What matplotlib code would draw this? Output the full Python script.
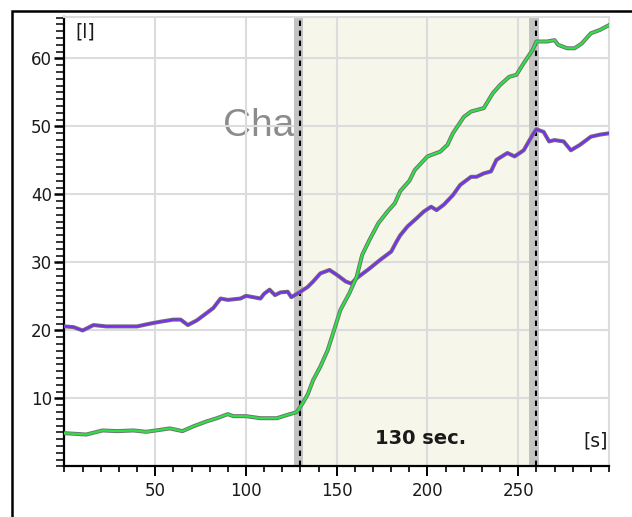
import matplotlib
matplotlib.use("Agg")
import matplotlib.pyplot as plt
import matplotlib.patheffects as pe
from matplotlib.ticker import MultipleLocator

# values (x in seconds, y in litres)
purple_x = [0, 5, 10, 16, 23, 31, 40, 47, 53, 60, 64, 68, 73, 78, 82, 86, 90, 97, 100,
            108, 110, 113, 116, 119, 123, 125, 130, 134, 137, 141, 146, 150, 155, 158,
            161, 168, 174, 180, 183, 185, 189, 194, 198, 202, 205, 209, 214, 218, 224,
            227, 231, 235, 238, 244, 248, 253, 258, 260, 264, 267, 270, 275, 279, 284,
            290, 295, 300]
purple_y = [20.6, 20.5, 20.0, 20.8, 20.6, 20.6, 20.6, 21.0, 21.3, 21.6, 21.6, 20.8, 21.5,
            22.5, 23.3, 24.7, 24.5, 24.7, 25.1, 24.7, 25.4, 26.0, 25.2, 25.6, 25.7, 24.9,
            25.7, 26.4, 27.2, 28.4, 28.9, 28.2, 27.2, 26.9, 27.7, 29.1, 30.4, 31.6, 33.1,
            34.0, 35.3, 36.5, 37.5, 38.2, 37.7, 38.5, 39.9, 41.4, 42.6, 42.6, 43.1, 43.4,
            45.1, 46.1, 45.6, 46.5, 48.8, 49.6, 49.2, 47.8, 48.0, 47.8, 46.5, 47.3, 48.5,
            48.8, 49.0]

green_x = [0, 12, 21, 29, 38, 45, 53, 58, 65, 71, 78, 84, 90, 93, 100, 108, 117, 123, 128,
           131, 134, 137, 141, 145, 148, 152, 157, 161, 164, 168, 173, 178, 182, 185, 190,
           193, 200, 207, 211, 214, 220, 224, 231, 236, 240, 245, 249, 253, 258, 260, 266,
           270, 272, 277, 281, 285, 290, 295, 300]
green_y = [4.9, 4.7, 5.3, 5.2, 5.3, 5.1, 5.4, 5.6, 5.2, 5.9, 6.6, 7.1, 7.7, 7.4, 7.4, 7.1,
           7.1, 7.6, 8.0, 9.2, 10.6, 12.7, 14.7, 17.1, 19.6, 23.0, 25.5, 27.9, 31.1, 33.3,
           35.8, 37.5, 38.7, 40.5, 42.0, 43.6, 45.6, 46.3, 47.3, 49.0, 51.4, 52.2, 52.7,
           54.9, 56.1, 57.3, 57.6, 59.3, 61.3, 62.5, 62.5, 62.7, 62.0, 61.5, 61.5, 62.2,
           63.7, 64.2, 64.9]

marker_start = 130
marker_end = 260
span_label = "130 sec."

fig = plt.figure(figsize=(6.32, 5.17), dpi=100)
ax = fig.add_axes([0.102, 0.0977, 0.8616, 0.8694])

# outer frame: only its top and left edges fall inside the picture
fx = 11.5 / 632
fy = 1 - 11 / 517
ax.plot([fx, fx, 1.01], [-0.01, fy, fy], transform=fig.transFigure, color="black",
        lw=1.8, clip_on=False, zorder=10, solid_joinstyle="miter")

ax.set_xlim(0, 300)
ax.set_ylim(0, 66.1)

# watermark title, partly hidden under the shaded span
ax.text(87.5, 50, "Chart", fontsize=28, color="#8c8c8c", family="Liberation Sans",
        ha="left", va="center", zorder=0.3)

ax.axvspan(marker_start + 1, marker_end - 3.5, color="#f7f6ea", lw=0, zorder=0.5)

for gx in [50, 100, 150, 200, 250]:
    ax.axvline(gx, color="#dcdcdc", lw=1.5, zorder=1)
for gy in [10, 20, 30, 40, 50, 60]:
    ax.axhline(gy, color="#dcdcdc", lw=1.5, zorder=1)

for m in [marker_start, marker_end]:
    ax.axvspan(m - 3.8, m + 1.6, color="#c3c3c3", lw=0, zorder=1.5)
    ax.axvline(m, color="black", lw=1.5, linestyle=(0, (2.6, 2.2)), zorder=1.6)

outline = [pe.Stroke(linewidth=2.9, foreground="#707070"), pe.Normal()]
ax.plot(purple_x, purple_y, color="#7a2ff0", lw=1.5, zorder=3, path_effects=outline)
ax.plot(green_x, green_y, color="#30e048", lw=1.6, zorder=3, path_effects=outline)

ax.text(196, 4.1, span_label, fontsize=14, fontweight="bold", color="#1a1a1a",
        ha="center", va="center", zorder=4)
ax.text(299.5, 3.7, "[s]", fontsize=13.5, color="#1a1a1a", ha="right", va="center", zorder=4)
ax.text(6, 65.3, "[l]", fontsize=13.5, color="#1a1a1a", ha="left", va="top", zorder=4)

ax.set_xticks([50, 100, 150, 200, 250])
ax.set_yticks([10, 20, 30, 40, 50, 60])
ax.xaxis.set_minor_locator(MultipleLocator(10))
ax.yaxis.set_minor_locator(MultipleLocator(1))
ax.tick_params(axis="x", which="major", length=7.5, width=1.4, pad=4, labelsize=12,
               labelcolor="#1a1a1a")
ax.tick_params(axis="x", which="minor", length=4.5, width=1.2)
ax.tick_params(axis="y", which="major", length=7, width=1.8, pad=2, labelsize=12,
               labelcolor="#1a1a1a")
ax.tick_params(axis="y", which="minor", length=5.5, width=1.1)

for side in ["left", "bottom"]:
    ax.spines[side].set_color("black")
    ax.spines[side].set_linewidth(1.6)
for side in ["top", "right"]:
    ax.spines[side].set_color("#dcdcdc")
    ax.spines[side].set_linewidth(1.5)

plt.savefig("out.png", dpi=100)
